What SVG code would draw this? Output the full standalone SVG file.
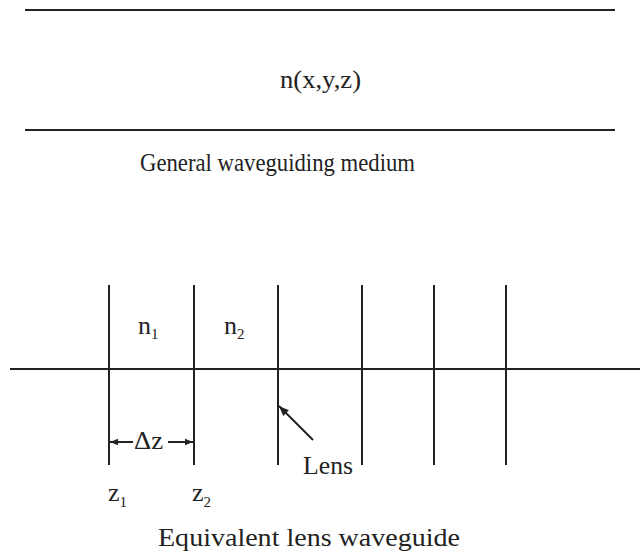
<svg xmlns="http://www.w3.org/2000/svg" width="640" height="554" viewBox="0 0 640 554">
<style>
.ln{stroke:#222;stroke-width:2;fill:none}
.t{font-family:"Liberation Serif","Times New Roman",serif;fill:#222;font-size:26px}
.s{font-size:15px}
</style>
<defs>
<marker id="ah" viewBox="0 0 10 10" refX="10" refY="5" markerWidth="9" markerHeight="8" markerUnits="userSpaceOnUse" orient="auto"><path d="M0,1 L10,5 L0,9 Z" fill="#222"/></marker>
<marker id="ah2" viewBox="0 0 10 10" refX="10" refY="5" markerWidth="12" markerHeight="10" markerUnits="userSpaceOnUse" orient="auto"><path d="M0,1 L10,5 L0,9 Z" fill="#222"/></marker>
</defs>
<rect width="640" height="554" fill="#fff"/>
<g id="medium">
<line class="ln" x1="25" y1="10" x2="615" y2="10"/>
<line class="ln" x1="25" y1="130" x2="615" y2="130"/>
<text class="t" x="280" y="88" textLength="81" lengthAdjust="spacingAndGlyphs">n(x,y,z)</text>
<text class="t" x="140" y="171" textLength="275" lengthAdjust="spacingAndGlyphs">General waveguiding medium</text>
</g>
<g id="waveguide">
<line class="ln" x1="10" y1="369" x2="640" y2="369"/>
<line class="ln" x1="109" y1="285" x2="109" y2="465"/>
<line class="ln" x1="194" y1="285" x2="194" y2="465"/>
<line class="ln" x1="278" y1="285" x2="278" y2="465"/>
<line class="ln" x1="362" y1="285" x2="362" y2="465"/>
<line class="ln" x1="434" y1="285" x2="434" y2="465"/>
<line class="ln" x1="506" y1="285" x2="506" y2="465"/>
<text class="t" x="138" y="334">n<tspan class="s" dy="5">1</tspan></text>
<text class="t" x="224" y="334">n<tspan class="s" dy="5">2</tspan></text>
<text class="t" x="108" y="501">z<tspan class="s" dy="6">1</tspan></text>
<text class="t" x="192" y="501">z<tspan class="s" dy="6">2</tspan></text>
<text class="t" x="303" y="474" textLength="50" lengthAdjust="spacingAndGlyphs">Lens</text>
<text class="t" x="158" y="546" textLength="302" lengthAdjust="spacingAndGlyphs">Equivalent lens waveguide</text>
</g>
<g id="connectors">
<line class="ln" x1="133" y1="442" x2="110" y2="442" stroke-width="1.5" marker-end="url(#ah)"/>
<line class="ln" x1="168" y1="442" x2="193" y2="442" stroke-width="1.5" marker-end="url(#ah)"/>
<text class="t" x="134" y="449" textLength="29" lengthAdjust="spacingAndGlyphs">Δz</text>
<line class="ln" x1="313" y1="440" x2="279" y2="406" stroke-width="1.5" marker-end="url(#ah2)"/>
</g>
</svg>
